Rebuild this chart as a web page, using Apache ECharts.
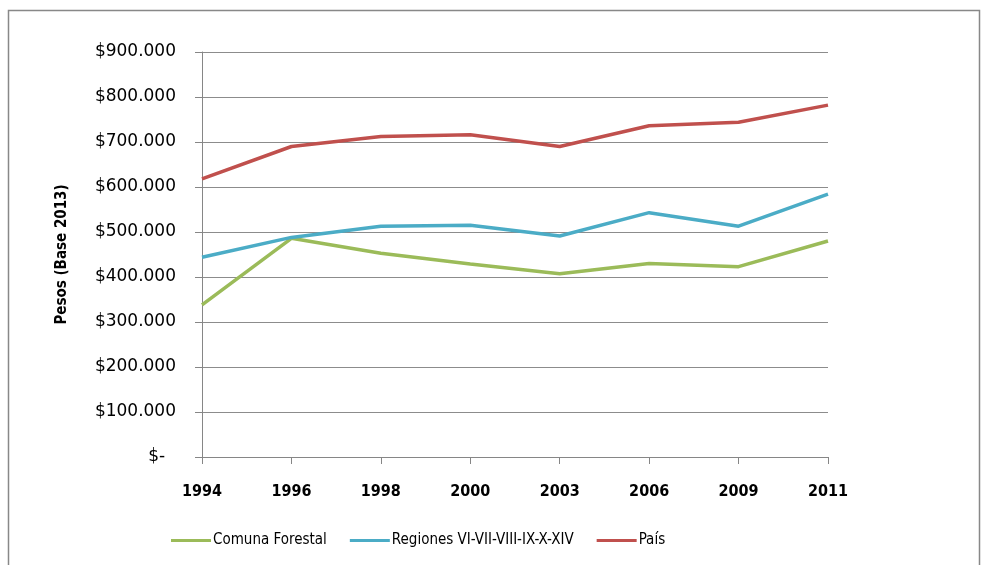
<!DOCTYPE html>
<html>
<head>
<meta charset="utf-8">
<script src="https://cdn.jsdelivr.net/npm/echarts@6/dist/echarts.min.js"></script>
<style>
html, body { margin: 0; padding: 0; background: #fff; }
#main { width: 984px; height: 565px; }
</style>
</head>
<body>
<div id="main"></div>
<script>
var myChart = echarts.init(document.getElementById('main'));

// datos
var years = ['1994', '1996', '1998', '2000', '2003', '2006', '2009', '2011'];
var comunaForestal = [338000, 486000, 453000, 429000, 407000, 430000, 423000, 480000];
var regiones = [444000, 488000, 513000, 515000, 491000, 543000, 513000, 584000];
var pais = [618000, 690000, 712000, 716000, 690000, 736000, 744000, 782000];
var seriesNames = ['Comuna Forestal', 'Regiones VI-VII-VIII-IX-X-XIV', 'País'];
var seriesColors = ['#9BBB59', '#4BACC6', '#C0504D'];

var fontName = '"Liberation Sans Narrow", "DejaVu Sans Condensed", "Liberation Sans", sans-serif';

function makeLine(i, data) {
    return {
        name: seriesNames[i],
        type: 'line',
        data: data,
        symbol: 'none',
        lineStyle: { color: seriesColors[i], width: 3.5 },
        itemStyle: { color: seriesColors[i] }
    };
}

var option = {
    backgroundColor: '#fff',
    animation: false,
    textStyle: { fontFamily: fontName },
    graphic: [{
        type: 'rect',
        shape: { x: 8.5, y: 10.5, width: 971, height: 570 },
        style: { fill: 'none', stroke: '#888', lineWidth: 1.5 }
    }],
    grid: {
        left: 202,
        right: 156,
        top: 52,
        bottom: 108
    },
    legend: {
        data: seriesNames,
        bottom: 12,
        left: 166,
        itemGap: 23,
        itemWidth: 40,
        itemHeight: 3,
        icon: 'rect',
        textStyle: { fontSize: 15, color: '#000', fontFamily: fontName, padding: [0, 0, 0, -3] }
    },
    xAxis: {
        type: 'category',
        data: years,
        boundaryGap: false,
        axisLine: { lineStyle: { color: '#868686', width: 1 } },
        axisTick: { show: true, length: 7, lineStyle: { color: '#868686' } },
        axisLabel: { fontSize: 16, fontWeight: 'bold', color: '#000', margin: 27 },
        splitLine: { show: false }
    },
    yAxis: {
        type: 'value',
        min: 0,
        max: 900000,
        interval: 100000,
        name: 'Pesos (Base 2013)',
        nameLocation: 'middle',
        nameRotate: 90,
        nameGap: 132,
        nameTextStyle: { fontSize: 15, fontWeight: 'bold', color: '#000' },
        axisLine: { show: true, lineStyle: { color: '#868686', width: 1 } },
        axisTick: { show: true, length: 7, lineStyle: { color: '#868686' } },
        axisLabel: {
            fontSize: 17,
            fontFamily: '"DejaVu Sans", sans-serif',
            color: '#000',
            margin: 26,
            formatter: function (v) {
                if (v === 0) return '$-  ';
                return '$' + (v / 1000).toFixed(0) + '.000';
            }
        },
        splitLine: { lineStyle: { color: '#8C8C8C', width: 1 } }
    },
    series: [
        makeLine(0, comunaForestal),
        makeLine(1, regiones),
        makeLine(2, pais)
    ]
};

myChart.setOption(option);
</script>
</body>
</html>
